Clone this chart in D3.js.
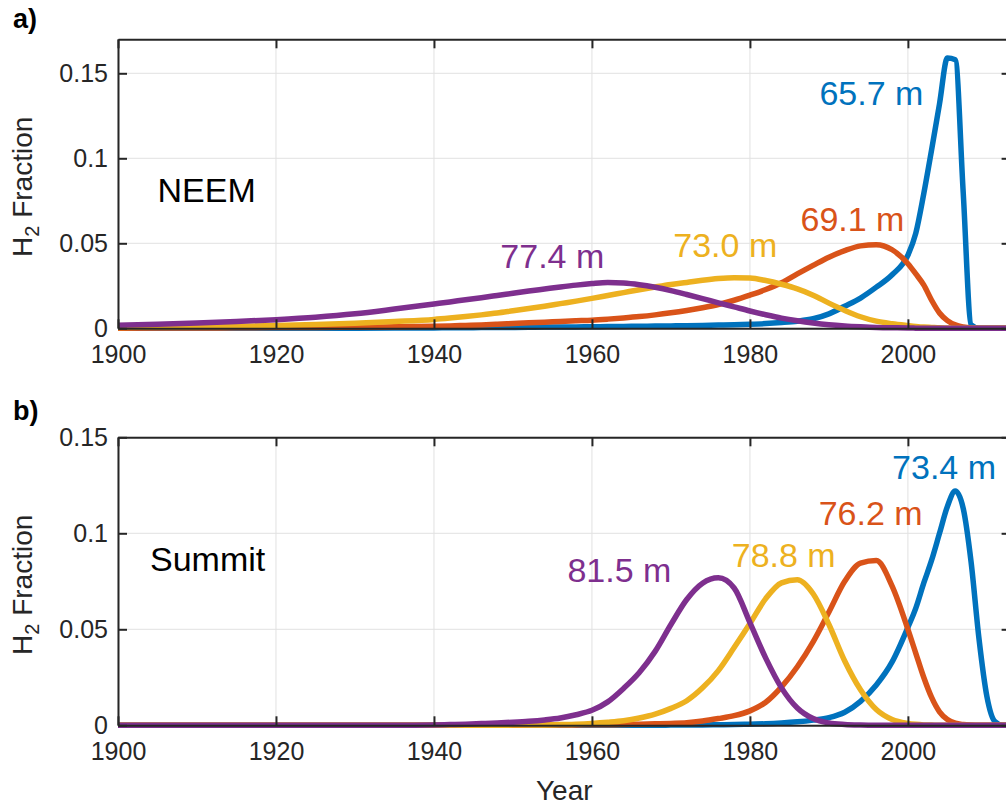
<!DOCTYPE html>
<html>
<head>
<meta charset="utf-8">
<script src="https://cdn.jsdelivr.net/npm/d3@7"></script>
<style>
  html, body { margin: 0; padding: 0; background: #fff; }
  svg { display: block; font-family: "Liberation Sans", Arial, Helvetica, sans-serif; }
</style>
</head>
<body>
<svg id="chart" width="1006" height="808"></svg>
<script>
// Sample years shared by every age-distribution series
const years = [1900,1905,1910,1915,1920,1925,1930,1935,
  1940,1942,1944,1946,1948,1950,1952,1954,1956,1958,1960,1962,1964,1966,1968,1970,
  1972,1974,1976,1978,1980,1982,1984,1986,1988,1990,1992,1994,1996,1998,2000,
  2001,2002,2003,2004,2005,2006,2007,2008,2009,2010,2011,2012,2013];

// NEEM: H2 fraction by year for each firn depth
const neem657 = [0,0,0,0,0.0001,0.0001,0.0001,0.0002,
  0.0002,0.0003,0.0003,0.0004,0.0004,0.0005,0.0006,0.0007,0.0007,0.0008,0.0009,0.001,0.0011,0.0012,0.0013,0.0014,
  0.0015,0.0017,0.0019,0.0021,0.0024,0.0028,0.0034,0.0042,0.0056,0.0085,0.013,0.0178,0.0242,0.0315,0.043,
  0.056,0.079,0.105,0.132,0.159,0.158,0.08,0.002,0,0,0,0,0];
const neem691 = [0.0001,0.0002,0.0002,0.0003,0.0004,0.0005,0.0007,0.0009,
  0.0012,0.0014,0.0017,0.002,0.0024,0.0028,0.0032,0.0036,0.004,0.0044,0.0048,0.0054,0.0061,0.0069,0.0079,0.0091,
  0.0105,0.0121,0.014,0.0165,0.0195,0.0228,0.0268,0.032,0.037,0.0418,0.0457,0.0485,0.0492,0.0462,0.038,
  0.032,0.0255,0.0165,0.009,0.0045,0.002,0.0008,0.0002,0,0,0,0,0];
const neem730 = [0.0005,0.0007,0.0009,0.0012,0.0016,0.0022,0.003,0.004,
  0.0052,0.006,0.0069,0.0079,0.009,0.0103,0.0116,0.013,0.0145,0.016,0.0176,0.0193,0.021,0.0227,0.0243,0.0258,
  0.027,0.0283,0.0293,0.0298,0.0296,0.0281,0.0259,0.0232,0.0195,0.0148,0.0105,0.0068,0.0042,0.0027,0.0016,
  0.0011,0.0007,0.0005,0.0003,0.0002,0.0001,0,0,0,0,0,0,0];
const neem774 = [0.0018,0.0024,0.0031,0.004,0.0051,0.0065,0.0085,0.0113,
  0.0143,0.0155,0.0168,0.018,0.0193,0.0206,0.0219,0.0231,0.0243,0.0254,0.0263,0.0269,0.0266,0.0256,0.0241,0.0222,
  0.0199,0.0175,0.015,0.0126,0.0102,0.008,0.006,0.0044,0.0031,0.0021,0.0014,0.0009,0.0005,0.0003,0.0002,
  0.0001,0,0,0,0,0,0,0,0,0,0,0,0];

// Summit: H2 fraction by year for each firn depth
const summit734 = [0,0,0,0,0,0,0,0,
  0,0,0,0,0,0,0,0,0,0,0,0,0,0,0,0.0001,
  0.0002,0.0002,0.0003,0.0004,0.0006,0.0008,0.0012,0.0018,0.0027,0.004,0.0068,0.0125,0.021,0.033,0.051,
  0.061,0.074,0.086,0.1,0.114,0.122,0.113,0.085,0.045,0.015,0.002,0,0];
const summit762 = [0,0,0,0,0,0,0,0,
  0,0,0,0,0,0,0.0001,0.0001,0.0002,0.0002,0.0003,0.0003,0.0004,0.0006,0.0008,0.001,
  0.0013,0.0022,0.0035,0.005,0.0075,0.012,0.02,0.0305,0.0435,0.059,0.075,0.0845,0.0858,0.0725,0.05,
  0.0375,0.025,0.0145,0.007,0.003,0.0011,0.0004,0.0001,0,0,0,0,0];
const summit788 = [0,0,0,0,0,0,0,0,
  0,0,0,0,0,0.0001,0.0001,0.0002,0.0004,0.0006,0.001,0.0016,0.0024,0.0038,0.0058,0.0088,
  0.0128,0.0195,0.0285,0.0405,0.053,0.066,0.0742,0.0758,0.0685,0.0525,0.0335,0.0185,0.0082,0.003,0.001,
  0.0005,0.0002,0.0001,0,0,0,0,0,0,0,0,0,0];
const summit815 = [0,0,0,0,0,0,0,0,
  0.0002,0.0004,0.0006,0.0009,0.0012,0.0016,0.0021,0.0028,0.0038,0.0055,0.0078,0.0122,0.0192,0.0275,0.0385,0.0525,
  0.0655,0.074,0.0768,0.0715,0.0535,0.035,0.0195,0.009,0.0035,0.0012,0.0004,0.0001,0,0,0,
  0,0,0,0,0,0,0,0,0,0,0,0,0];

const neemDepths = ["65.7 m", "69.1 m", "73.0 m", "77.4 m"];
const summitDepths = ["73.4 m", "76.2 m", "78.8 m", "81.5 m"];

const xTicks = [1900, 1920, 1940, 1960, 1980, 2000];
const yTicks = [0, 0.05, 0.1, 0.15];

const colors = ["#0072BD", "#D95319", "#EDB120", "#7E2F8E"];
const axisColor = "#262626";
const gridColor = "#e1e1e1";

const svg = d3.select("#chart");
svg.append("rect").attr("width", 1006).attr("height", 808).attr("fill", "#fff");

const x = d3.scaleLinear().domain([1900, 2013]).range([118, 1010.6]);

function drawPanel(opt) {
  const y = d3.scaleLinear().domain([0, opt.yMax]).range([opt.yBottom, opt.yTop]);
  const g = svg.append("g");

  // grid
  g.append("g").selectAll("line").data(xTicks).join("line")
    .attr("x1", d => x(d)).attr("x2", d => x(d))
    .attr("y1", opt.yTop).attr("y2", opt.yBottom)
    .attr("stroke", gridColor).attr("stroke-width", 1);
  g.append("g").selectAll("line").data(yTicks).join("line")
    .attr("x1", x.range()[0]).attr("x2", x.range()[1])
    .attr("y1", d => y(d)).attr("y2", d => y(d))
    .attr("stroke", gridColor).attr("stroke-width", 1);

  // series
  const line = d3.line()
    .x((d, i) => x(years[i]))
    .y(d => y(d))
    .curve(d3.curveMonotoneX);
  opt.series.forEach((s, k) => {
    g.append("path").datum(s)
      .attr("d", line)
      .attr("fill", "none")
      .attr("stroke", colors[k])
      .attr("stroke-width", 5.5)
      .attr("stroke-linejoin", "round");
  });

  // axes (ticks point inward, box closed on all sides)
  const fmt = d => String(d);
  const styleAxis = sel => {
    sel.selectAll("path.domain").attr("stroke", axisColor).attr("stroke-width", 2);
    sel.selectAll(".tick line").attr("stroke", axisColor).attr("stroke-width", 2);
    sel.selectAll(".tick text").attr("fill", axisColor).attr("font-size", 25)
      .attr("font-family", "'Liberation Sans', Arial, Helvetica, sans-serif");
  };
  g.append("g").attr("transform", `translate(0,${opt.yBottom})`)
    .call(d3.axisBottom(x).tickValues(xTicks).tickFormat(fmt).tickSize(-9).tickSizeOuter(0).tickPadding(17))
    .call(styleAxis);
  g.append("g").attr("transform", `translate(0,${opt.yTop})`)
    .call(d3.axisTop(x).tickValues(xTicks).tickFormat("").tickSize(-9).tickSizeOuter(0))
    .call(styleAxis);
  g.append("g").attr("transform", `translate(${x.range()[0]},0)`)
    .call(d3.axisLeft(y).tickValues(yTicks).tickFormat(fmt).tickSize(-9).tickSizeOuter(0).tickPadding(10))
    .call(styleAxis);
  g.append("g").attr("transform", `translate(${x.range()[1]},0)`)
    .call(d3.axisRight(y).tickValues(yTicks).tickFormat("").tickSize(-9).tickSizeOuter(0))
    .call(styleAxis);

  // depth labels
  opt.labels.forEach((t, k) => {
    g.append("text")
      .attr("x", x(opt.labelPos[k][0])).attr("y", y(opt.labelPos[k][1]))
      .attr("fill", colors[k]).attr("font-size", 34)
      .text(t);
  });

  // site name
  g.append("text")
    .attr("x", x(opt.sitePos[0])).attr("y", y(opt.sitePos[1]))
    .attr("fill", "#000").attr("font-size", 34)
    .text(opt.site);

  // y-axis title
  const yl = g.append("text")
    .attr("transform", `translate(32,${opt.yLabelStart}) rotate(-90)`)
    .attr("fill", axisColor).attr("font-size", 28);
  yl.append("tspan").text("H");
  yl.append("tspan").attr("font-size", 20).attr("dy", 7).text("2");
  yl.append("tspan").attr("dy", -7).text(" Fraction");

  // panel letter
  g.append("text").attr("x", 13).attr("y", opt.letterY)
    .attr("font-weight", "bold").attr("font-size", 27).attr("fill", "#000")
    .text(opt.letter);
}

drawPanel({
  yTop: 39.3, yBottom: 328.3, yMax: 0.17,
  series: [neem657, neem691, neem730, neem774],
  labels: neemDepths,
  labelPos: [[1988.8, 0.1313], [1986.4, 0.0574], [1970.3, 0.0421], [1948.4, 0.0353]],
  site: "NEEM", sitePos: [1905.0, 0.0745],
  yLabelStart: 257, letter: "a)", letterY: 28
});

drawPanel({
  yTop: 437.3, yBottom: 725.3, yMax: 0.15,
  series: [summit734, summit762, summit788, summit815],
  labels: summitDepths,
  labelPos: [[1998.0, 0.1281], [1988.7, 0.1043], [1977.7, 0.0826], [1956.9, 0.0748]],
  site: "Summit", sitePos: [1904.05, 0.0805],
  yLabelStart: 655, letter: "b)", letterY: 420
});

// x-axis title
svg.append("text")
  .attr("x", 564.3).attr("y", 800)
  .attr("text-anchor", "middle")
  .attr("fill", axisColor).attr("font-size", 28)
  .text("Year");
</script>
</body>
</html>
